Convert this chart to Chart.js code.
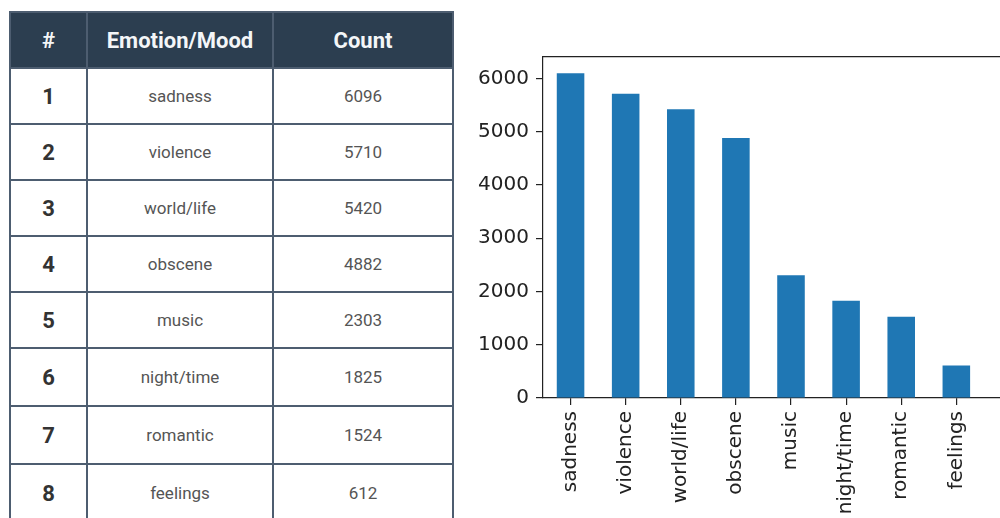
<!DOCTYPE html>
<html>
<head>
<meta charset="utf-8">
<script src="https://cdn.jsdelivr.net/npm/chart.js@4.4.1/dist/chart.umd.min.js"></script>
<style>
  html, body { margin: 0; padding: 0; background: #fff; overflow: hidden; width: 1000px; height: 518px; }
  #tableau {
    position: absolute; left: 9px; top: 11px;
    border-collapse: collapse;
    font-family: Roboto, sans-serif;
  }
  #tableau th, #tableau td {
    border: 2px solid #4d5d70;
    text-align: center;
    padding: 0;
  }
  #tableau th {
    background: #2c3e50; color: #f4f6f8;
    font-weight: bold; font-size: 22px; height: 54px;
  }
  #tableau td { font-size: 17px; color: #555; height: 54px; }
  #tableau tr:nth-child(n+6) td { height: 56px; }
  #tableau td.rang { font-weight: bold; font-size: 22px; color: #333; }
  #zone { position: absolute; left: 460px; top: 0; }
</style>
</head>
<body>
<table id="tableau">
  <thead>
    <tr><th style="width:75px">#</th><th style="width:184px">Emotion/Mood</th><th style="width:178px">Count</th></tr>
  </thead>
  <tbody id="corps"></tbody>
</table>
<div id="zone"><canvas id="graphique" width="600" height="518"></canvas></div>
<script>
// données
const emotions = ['sadness', 'violence', 'world/life', 'obscene', 'music', 'night/time', 'romantic', 'feelings'];
const comptes = [6096, 5710, 5420, 4882, 2303, 1825, 1524, 612];
const ticksY = [0, 1000, 2000, 3000, 4000, 5000, 6000];

// tableau
const corps = document.getElementById('corps');
emotions.forEach((e, i) => {
  const tr = document.createElement('tr');
  tr.innerHTML = `<td class="rang">${i + 1}</td><td>${e}</td><td>${comptes[i]}</td>`;
  corps.appendChild(tr);
});

const police = { family: 'DejaVu Sans', size: 20 };
const noir = '#222';

const ctx = document.getElementById('graphique').getContext('2d');
new Chart(ctx, {
  type: 'bar',
  data: {
    datasets: [{
      data: comptes.map((v, i) => ({ x: i, y: v })),
      backgroundColor: '#1f77b4',
      borderWidth: 0,
      barPercentage: 0.5,
      categoryPercentage: 1
    }]
  },
  options: {
    responsive: false,
    animation: false,
    devicePixelRatio: 1,
    layout: { padding: { top: 57, right: 21, left: 0, bottom: 0 } },
    plugins: { legend: { display: false }, tooltip: { enabled: false } },
    scales: {
      x: {
        type: 'linear',
        position: 'bottom',
        offset: false,
        min: -0.5,
        max: 8.5,
        afterBuildTicks: (s) => { s.ticks = emotions.map((e, i) => ({ value: i })); },
        afterFit: (s) => { s.height = 120; },
        ticks: {
          autoSkip: false,
          minRotation: 90,
          maxRotation: 90,
          padding: 6,
          color: noir,
          font: police,
          callback: (v) => emotions[v] || ''
        },
        grid: { offset: false, drawOnChartArea: false, tickLength: 7, color: noir, lineWidth: 1.2 },
        border: { color: noir, width: 1.2 }
      },
      haut: {
        type: 'linear',
        position: 'top',
        ticks: { display: false },
        grid: { display: false },
        afterFit: (s) => { s.height = 0; },
        border: { color: noir, width: 1.2 }
      },
      y: {
        min: 0,
        max: 6400,
        afterBuildTicks: (s) => { s.ticks = ticksY.map(v => ({ value: v })); },
        afterFit: (s) => { s.width = 83; },
        ticks: { padding: 7, color: noir, font: police, callback: (v) => String(v) },
        grid: { drawOnChartArea: false, tickLength: 7, color: noir, lineWidth: 1.2 },
        border: { color: noir, width: 1.2 }
      }
    }
  }
});
</script>
</body>
</html>
